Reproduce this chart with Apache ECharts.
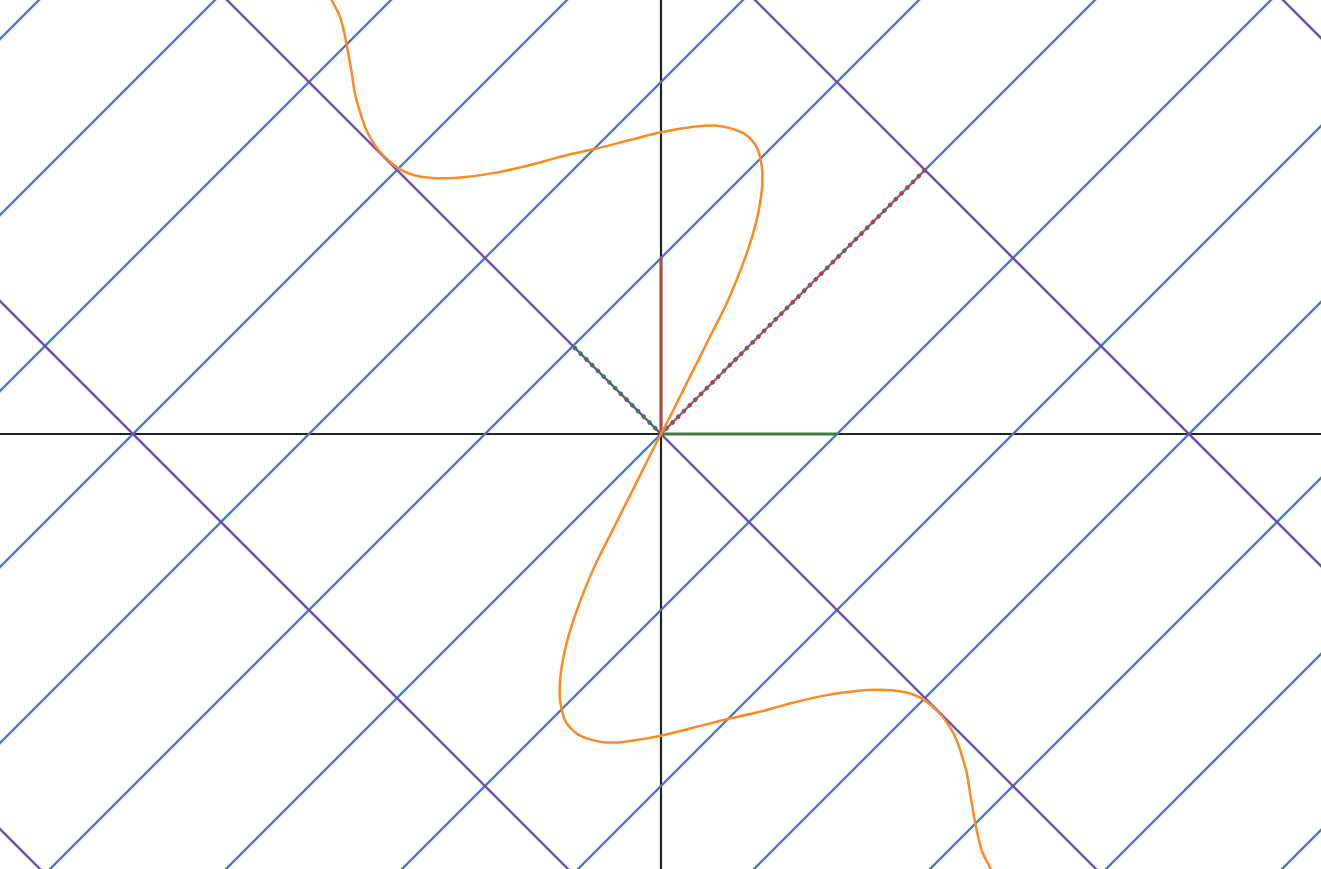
<!DOCTYPE html>
<html>
<head>
<meta charset="utf-8">
<script src="https://cdn.jsdelivr.net/npm/echarts@6/dist/echarts.min.js"></script>
<style>
html,body{margin:0;padding:0;background:#fff;}
#chart{width:1321px;height:869px;}
</style>
</head>
<body>
<div id="chart"></div>
<script>
// Offsets c of the blue lines  x - y = c
const blueOffsets = [-6, -5, -4, -3, -2, -1, 0, 1, 2, 3, 4, 5, 6];
// Offsets c of the purple lines  x + y = c
const purpleOffsets = [-6, -3, 0, 3, 6];
// Solid basis vectors
const redVector = [[0, 0], [0, 1]];
const greenVector = [[0, 0], [1, 0]];
// Dotted image vectors
const redDotted = [[0, 0], [1.5, 1.5]];
const greenDotted = [[0, 0], [-0.5, 0.5]];
// Orange curve
const orangeCurve = [
  [-1.898, 2.534], [-1.871, 2.466], [-1.824, 2.371], [-1.795, 2.257], [-1.777, 2.163],
  [-1.757, 2.049], [-1.739, 1.936], [-1.714, 1.841], [-1.682, 1.746], [-1.644, 1.670],
  [-1.597, 1.604], [-1.540, 1.547], [-1.483, 1.504], [-1.407, 1.472], [-1.313, 1.456],
  [-1.218, 1.453], [-1.123, 1.459], [-0.934, 1.485], [-0.744, 1.528], [-0.555, 1.580],
  [-0.385, 1.618], [-0.176, 1.670], [0.000, 1.714], [0.203, 1.748], [0.297, 1.753],
  [0.392, 1.738], [0.468, 1.709], [0.515, 1.670], [0.547, 1.623], [0.566, 1.557],
  [0.576, 1.481], [0.574, 1.405], [0.5625, 1.311], [0.534, 1.178], [0.487, 1.027],
  [0.430, 0.875], [0.364, 0.723], [0.288, 0.572], [0.212, 0.420], [0.136, 0.269],
  [0.070, 0.136], [0.000, 0.000],
  [-0.070, -0.136], [-0.136, -0.269], [-0.212, -0.420], [-0.288, -0.572], [-0.364, -0.723],
  [-0.430, -0.875], [-0.487, -1.027], [-0.534, -1.178], [-0.5625, -1.311], [-0.574, -1.405],
  [-0.576, -1.481], [-0.566, -1.557], [-0.547, -1.623], [-0.515, -1.670], [-0.468, -1.709],
  [-0.392, -1.738], [-0.297, -1.753], [-0.203, -1.748], [0.000, -1.714], [0.176, -1.670],
  [0.385, -1.618], [0.555, -1.580], [0.744, -1.528], [0.934, -1.485], [1.123, -1.459],
  [1.218, -1.453], [1.313, -1.456], [1.407, -1.472], [1.483, -1.504], [1.540, -1.547],
  [1.597, -1.604], [1.644, -1.670], [1.682, -1.746], [1.714, -1.841], [1.739, -1.936],
  [1.757, -2.049], [1.777, -2.163], [1.795, -2.257], [1.824, -2.371], [1.871, -2.466],
  [1.898, -2.534]
];

const BLUE = '#4280c4', PURPLE = '#6b4fb6', ORANGE = '#ff8a22',
      RED = '#b0443f', GREEN = '#3c7d45', BLACK = '#222222';
const EXT = 4;

const series = [];
blueOffsets.forEach(c => {
  series.push({
    type: 'line', data: [[c - EXT, -EXT], [c + EXT, EXT]], showSymbol: false, symbol: 'none',
    lineStyle: { color: BLUE, width: 2.4 }, z: 2, silent: true
  });
});
purpleOffsets.forEach(c => {
  series.push({
    type: 'line', data: [[c + EXT, -EXT], [c - EXT, EXT]], showSymbol: false, symbol: 'none',
    lineStyle: { color: PURPLE, width: 2.4 }, z: 2, silent: true
  });
});
series.push({ type: 'line', data: redVector, symbol: 'none', lineStyle: { color: RED, width: 3 }, z: 3, silent: true });
series.push({ type: 'line', data: greenVector, symbol: 'none', lineStyle: { color: GREEN, width: 3 }, z: 3, silent: true });
series.push({ type: 'line', data: redDotted, symbol: 'none', lineStyle: { color: RED, width: 4.5, type: [0.1, 8], cap: 'round' }, z: 4, silent: true });
series.push({ type: 'line', data: greenDotted, symbol: 'none', lineStyle: { color: GREEN, width: 4.5, type: [0.1, 8], cap: 'round' }, z: 4, silent: true });
series.push({ type: 'line', data: orangeCurve, symbol: 'none', smooth: 0.35, lineStyle: { color: ORANGE, width: 2.5 }, z: 5, silent: true });

const chart = echarts.init(document.getElementById('chart'), null, { renderer: 'canvas' });
chart.setOption({
  animation: false,
  backgroundColor: '#ffffff',
  grid: { left: 0, right: 0, top: 0, bottom: 0, containLabel: false },
  xAxis: {
    type: 'value', min: -661 / 176, max: 660 / 176,
    axisLine: { show: true, onZero: true, lineStyle: { color: BLACK, width: 2.2 } },
    axisTick: { show: false }, axisLabel: { show: false }, splitLine: { show: false }
  },
  yAxis: {
    type: 'value', min: -435 / 176, max: 434 / 176,
    axisLine: { show: true, onZero: true, lineStyle: { color: BLACK, width: 2.2 } },
    axisTick: { show: false }, axisLabel: { show: false }, splitLine: { show: false }
  },
  series: series
});
</script>
</body>
</html>
